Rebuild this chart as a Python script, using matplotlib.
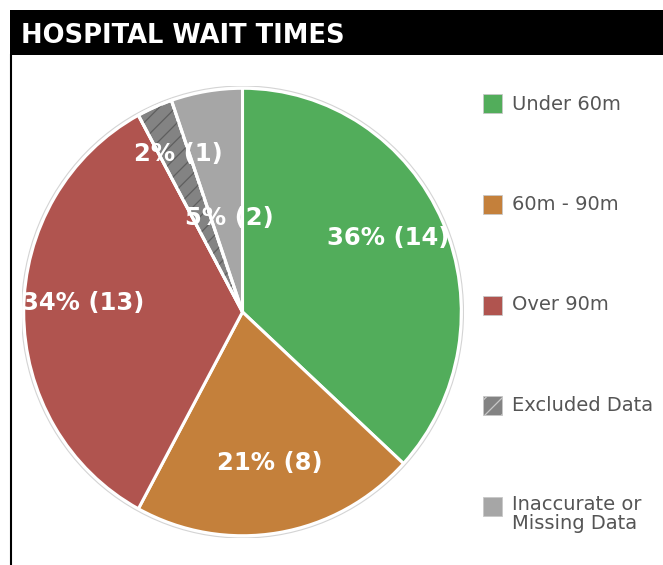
import matplotlib
matplotlib.use("Agg")
import matplotlib.pyplot as plt
from matplotlib.patches import Wedge, Ellipse, Rectangle
import numpy as np

categories = ["Under 60m", "60m - 90m", "Over 90m", "Excluded Data", "Inaccurate or\nMissing Data"]
values = [14, 8, 13, 1, 2]
colors = ["#52ad5b", "#c4803b", "#b0544f", "#838383", "#a6a6a6"]
label_dist = [0.735, 0.68, 0.723, 0.758, 0.42]
label_turn = [2.7, 0.9, -3.2, -1.0, -1.2]

plt.rcParams["hatch.linewidth"] = 0.9

W, H = 663, 565
fig = plt.figure(figsize=(W / 100, H / 100), dpi=100)
fig.patch.set_facecolor("white")

def fx(px):
    return px / W

def fy(py):
    return 1 - py / H

# header band
fig.patches.append(Rectangle((fx(10), fy(55)), fx(663) - fx(10), fy(10) - fy(55),
                             transform=fig.transFigure, facecolor="black", edgecolor="none", zorder=0))
# left border
fig.add_artist(plt.Line2D([fx(11), fx(11)], [fy(55), 0], transform=fig.transFigure, color="black", lw=1.5))
fig.text(fx(21), fy(36), "HOSPITAL WAIT TIMES", color="white", fontsize=18.5, fontweight="bold",
         va="center", ha="left", family="DejaVu Sans")

# pie axes (slightly taller than wide, as in the reference)
cx, cy, Rx, Ry = 242.5, 312, 221, 226
ax = fig.add_axes([fx(cx - Rx), fy(cy + Ry), (2 * Rx) / W, (2 * Ry) / H])

total = sum(values)
wedges, _ = ax.pie(values, colors=colors, startangle=90, counterclock=False, radius=0.99,
                   wedgeprops=dict(edgecolor="white", linewidth=2.2))
ax.add_patch(Ellipse((0, 0), 2.0, 2.0, fill=False, edgecolor="#d4d4d4", lw=0.8))
ax.set_xlim(-1, 1)
ax.set_ylim(-1, 1)
ax.set_aspect("auto")
ax.axis("off")

# hatch overlay for excluded
wx = wedges[3]
ov = Wedge(wx.center, wx.r, wx.theta1, wx.theta2, facecolor="none", edgecolor="#5e5e5e",
           hatch="//", linewidth=0)
ax.add_patch(ov)
# redraw white edge
ax.add_patch(Wedge(wx.center, wx.r, wx.theta1, wx.theta2, facecolor="none", edgecolor="white", lw=2.2))

for w, v, d, t in zip(wedges, values, label_dist, label_turn):
    ang = np.deg2rad((w.theta1 + w.theta2) / 2 + t)
    pct = int(100 * v / total)
    ax.text(d * np.cos(ang), d * np.sin(ang), f"{pct}% ({v})", color="white", fontsize=17.5,
            fontweight="bold", ha="center", va="center", zorder=10)

# legend
lx = 483
for i, (lab, c) in enumerate(zip(categories, colors)):
    y = 104 + 100.5 * i
    r = Rectangle((fx(lx), fy(y + 9.5)), 19 / W, 19 / H, transform=fig.transFigure,
                  facecolor=c, edgecolor="#c8c8c8", lw=0.6, hatch="//" if i == 3 else None)
    fig.patches.append(r)
    if "\n" in lab:
        fig.text(fx(512), fy(y - 11), lab, color="#555555", fontsize=14, va="top", ha="left",
                 linespacing=1.0)
    else:
        fig.text(fx(512), fy(y), lab, color="#555555", fontsize=14, va="center", ha="left")

fig.savefig("out.png", dpi=100)
